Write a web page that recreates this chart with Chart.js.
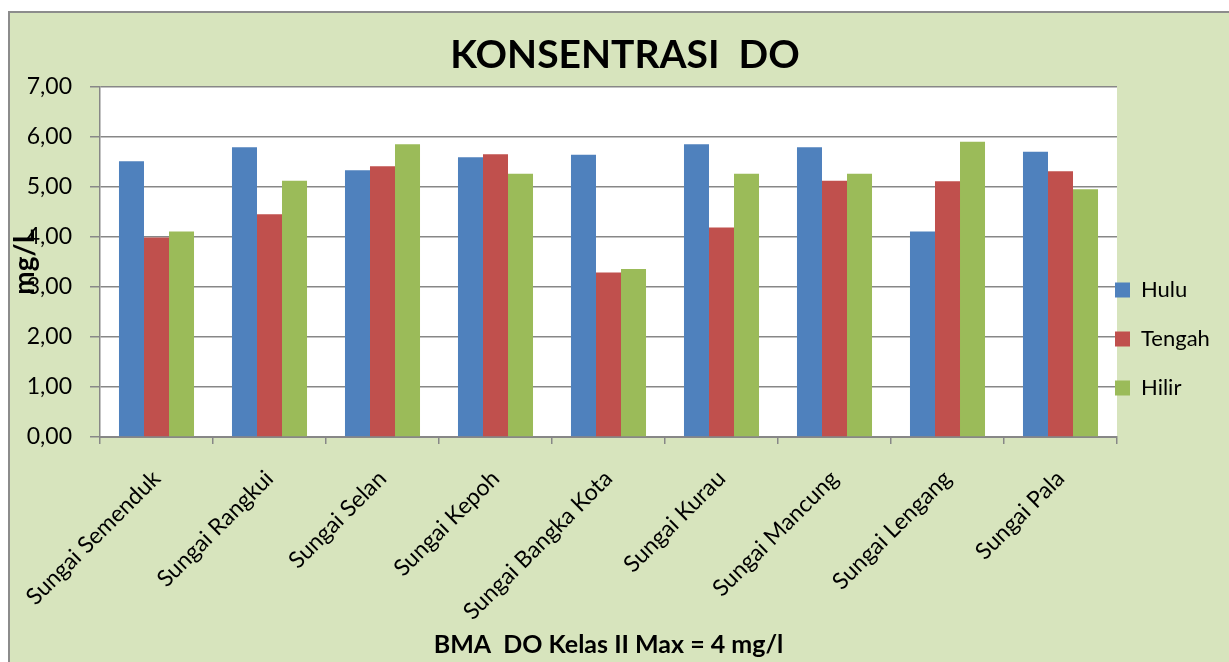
<!DOCTYPE html>
<html>
<head>
<meta charset="utf-8">
<style>
  html, body { margin: 0; padding: 0; background: #ffffff; }
  #wrap { position: absolute; left: 0; top: 0; width: 1229px; height: 662px; }
</style>
<script src="https://cdn.jsdelivr.net/npm/chart.js@4.4.1/dist/chart.umd.min.js"></script>
</head>
<body>
<div id="wrap"><canvas id="c" width="1229" height="662"></canvas></div>
<script>
const categories = ['Sungai Semenduk', 'Sungai Rangkui', 'Sungai Selan', 'Sungai Kepoh', 'Sungai Bangka Kota', 'Sungai Kurau', 'Sungai Mancung', 'Sungai Lengang', 'Sungai Pala'];
const hulu   = [5.51, 5.79, 5.33, 5.59, 5.64, 5.85, 5.79, 4.11, 5.70];
const tengah = [3.99, 4.45, 5.41, 5.65, 3.29, 4.19, 5.12, 5.11, 5.31];
const hilir  = [4.11, 5.12, 5.85, 5.26, 3.36, 5.26, 5.26, 5.90, 4.95];
const yTickLabels = ['0,00', '1,00', '2,00', '3,00', '4,00', '5,00', '6,00', '7,00'];
const seriesNames = ['Hulu', 'Tengah', 'Hilir'];
const chartTitle = 'KONSENTRASI  DO';
const xTitle = 'BMA  DO Kelas II Max = 4 mg/l';
const yTitle = 'mg/L';

const FONT = 'Lato, "Open Sans", sans-serif';
const GRID = '#878787';

const backgroundPlugin = {
  id: 'bg',
  beforeDraw(chart) {
    const ctx = chart.ctx;
    const ca = chart.chartArea;
    ctx.save();
    ctx.fillStyle = '#ffffff';
    ctx.fillRect(0, 0, chart.width, chart.height);
    ctx.fillStyle = '#D7E4BD';
    ctx.fillRect(9, 12, chart.width - 9, chart.height - 12);
    ctx.strokeStyle = '#8c8c8c';
    ctx.lineWidth = 2;
    ctx.beginPath();
    ctx.moveTo(9, chart.height);
    ctx.lineTo(9, 12);
    ctx.lineTo(chart.width, 12);
    ctx.stroke();
    ctx.fillStyle = '#ffffff';
    ctx.fillRect(ca.left, ca.top, ca.right - ca.left, ca.bottom - ca.top);
    ctx.restore();
  }
};

const legendPlacePlugin = {
  id: 'legendPlace',
  afterLayout(chart) {
    const lg = chart.legend;
    if (!lg) return;
    lg.left = chart.chartArea.right - 29;
    lg.right = chart.width;
    lg.width = lg.right - lg.left;
    lg.maxWidth = lg.width;
    lg.top = 252;
  }
};

new Chart(document.getElementById('c'), {
  type: 'bar',
  data: {
    labels: categories,
    datasets: [
      { label: seriesNames[0], data: hulu,   backgroundColor: '#4F81BD' },
      { label: seriesNames[1], data: tengah, backgroundColor: '#C0504D' },
      { label: seriesNames[2], data: hilir,  backgroundColor: '#9BBB59' }
    ]
  },
  options: {
    responsive: false,
    animation: false,
    devicePixelRatio: 1,
    layout: { padding: { left: 21, top: 12, right: 0, bottom: 0 } },
    datasets: { bar: { categoryPercentage: 0.664, barPercentage: 1.0, borderWidth: 0 } },
    plugins: {
      title: {
        display: true,
        text: chartTitle,
        color: '#000000',
        font: { family: FONT, size: 39, weight: 'bold', lineHeight: 1.2 },
        padding: { top: 20, bottom: 8 }
      },
      legend: {
        display: true,
        position: 'right',
        align: 'start',
        maxWidth: 112,
        labels: {
          color: '#000000',
          font: { family: FONT, size: 22 },
          boxWidth: 15,
          boxHeight: 15,
          padding: 27
        }
      },
      tooltip: { enabled: false }
    },
    scales: {
      x: {
        grid: {
          display: true,
          offset: true,
          drawOnChartArea: false,
          drawTicks: true,
          tickLength: 7,
          color: GRID,
          lineWidth: 1.5
        },
        border: { display: true, color: GRID, width: 2 },
        ticks: {
          color: '#000000',
          font: { family: FONT, size: 23 },
          minRotation: 45,
          maxRotation: 45,
          autoSkip: false,
          padding: 21
        },
        title: {
          display: true,
          text: xTitle,
          color: '#000000',
          font: { family: FONT, size: 25, weight: 'bold', lineHeight: 1.2 },
          padding: { top: 0, bottom: 2 }
        },
        afterFit(scale) { scale.height = 225; }
      },
      y: {
        min: 0,
        max: 7,
        ticks: {
          stepSize: 1,
          color: '#000000',
          font: { family: FONT, size: 23 },
          padding: 18,
          callback: (v, i) => yTickLabels[i]
        },
        grid: {
          color: GRID,
          lineWidth: 1.5,
          drawTicks: true,
          tickLength: 10
        },
        border: { display: true, color: GRID, width: 1.5 },
        title: {
          display: true,
          text: yTitle,
          color: '#000000',
          font: { family: FONT, size: 28, weight: 'bold', lineHeight: 0.3 },
          padding: { top: 0, bottom: 0 }
        },
        afterFit(scale) { scale.width = 79; }
      }
    }
  },
  plugins: [backgroundPlugin, legendPlacePlugin]
});
</script>
</body>
</html>
